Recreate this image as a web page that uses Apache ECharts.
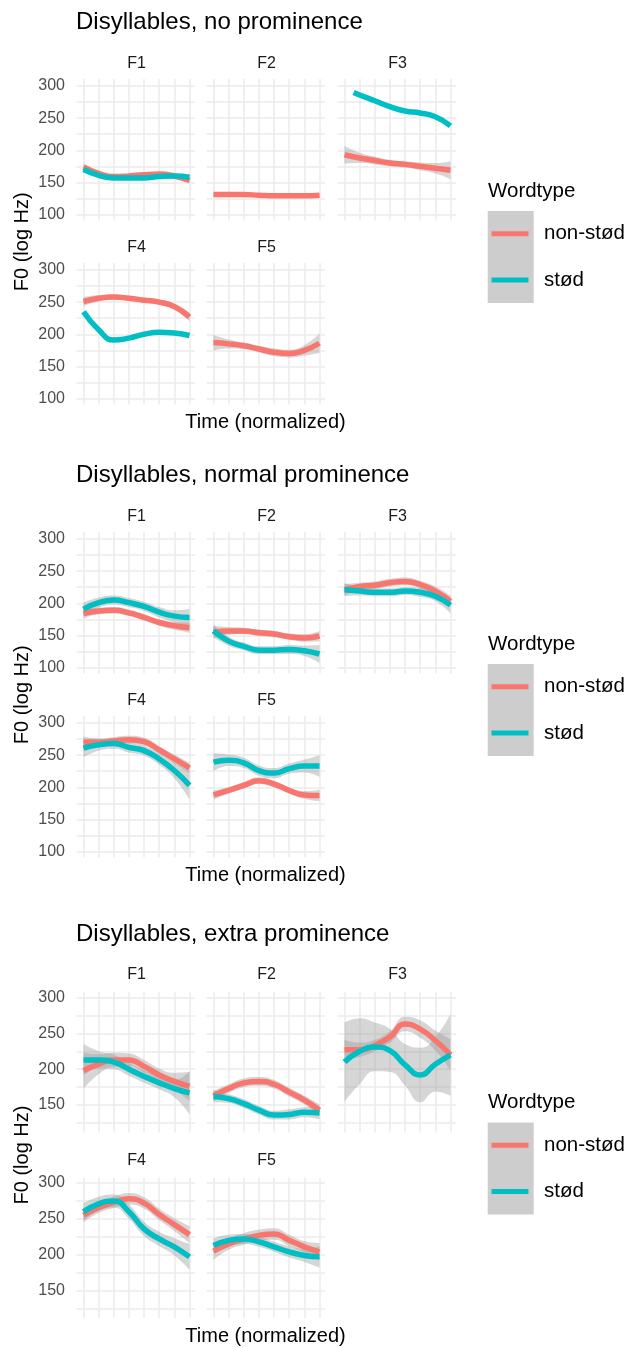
<!DOCTYPE html>
<html>
<head>
<meta charset="utf-8">
<title>Disyllables F0 contours</title>
<script src="https://cdn.jsdelivr.net/npm/echarts@6/dist/echarts.min.js"></script>
<style>
  html, body { margin: 0; padding: 0; background: #fff; }
  #chart { width: 631px; height: 1348px; }
</style>
</head>
<body>
<div id="chart"></div>
<script>
// ---- data ----
const times = [0, 1, 2, 3, 4, 5, 6, 7]
const facets = ['F1', 'F2', 'F3', 'F4', 'F5']
const wordtypes = ['non-stød', 'stød']
const panelTitles = ['Disyllables, no prominence', 'Disyllables, normal prominence', 'Disyllables, extra prominence']
const yRanges = [[100, 300], [100, 300], [125, 300]]

// no prominence
const noNonStodFit = [
  [174, 164, 159, 160, 162, 163, 160, 153],
  [131, 131, 131, 130, 129, 129, 129, 130],
  [193, 188, 184, 180, 178, 175, 172, 169],
  [251, 256, 258, 256, 253, 250, 243, 227],
  [187, 185, 182, 177, 172, 170, 175, 186]
]
const noNonStodSe = [
  [5, 3, 2, 2, 2, 2, 3, 5],
  [3, 2, 2, 2, 2, 2, 2, 3],
  [14, 8, 6, 5, 5, 6, 8, 14],
  [7, 5, 4, 4, 4, 4, 5, 7],
  [12, 7, 5, 5, 6, 6, 8, 15]
]
const noStodFit = [
  [170, 161, 157, 157, 157, 159, 160, 158],
  null,
  [290, 286, 277, 268, 261, 258, 252, 238],
  [235, 207, 191, 194, 200, 203, 202, 198],
  null
]
const noStodF3Times = [0.6, 1, 2, 3, 4, 5, 6, 7]

// normal prominence
const normNonStodFit = [
  [184, 188, 189, 185, 178, 170, 165, 162],
  [155, 157, 157, 154, 152, 148, 146, 149],
  [221, 226, 228, 232, 234, 229, 219, 203],
  [270, 270, 272, 274, 271, 258, 244, 230],
  [188, 195, 203, 210, 205, 195, 188, 187]
]
const normNonStodSe = [
  [8, 5, 5, 5, 5, 5, 6, 8],
  [10, 6, 5, 5, 5, 5, 6, 8],
  [9, 6, 6, 6, 6, 6, 7, 9],
  [9, 6, 6, 6, 6, 6, 7, 8],
  [7, 5, 5, 5, 5, 5, 6, 9]
]
const normStodFit = [
  [191, 201, 205, 201, 195, 186, 180, 178],
  [157, 141, 133, 127, 127, 128, 126, 121],
  [221, 219, 217, 217, 219, 217, 211, 197],
  [261, 266, 268, 262, 257, 244, 226, 203],
  [239, 242, 238, 226, 222, 229, 233, 233]
]
const normStodSe = [
  [10, 8, 7, 7, 7, 8, 9, 13],
  [10, 7, 6, 6, 6, 7, 8, 14],
  [10, 7, 6, 6, 6, 7, 8, 13],
  [14, 9, 8, 8, 8, 9, 12, 22],
  [14, 9, 8, 8, 8, 8, 10, 17]
]

// extra prominence
const extraNonStodFit = [
  [198, 207, 213, 213, 204, 192, 183, 176],
  [163, 173, 181, 183, 179, 168, 157, 143],
  [227, 227, 233, 245, 263, 256, 240, 220],
  [255, 266, 273, 278, 272, 256, 242, 228],
  [205, 215, 222, 227, 229, 220, 211, 204]
]
const extraNonStodSe = [
  [25, 14, 10, 9, 9, 9, 12, 20],
  [7, 6, 6, 6, 6, 6, 6, 8],
  [14, 10, 8, 8, 10, 12, 14, 22],
  [10, 8, 8, 8, 8, 8, 9, 12],
  [12, 8, 8, 8, 8, 8, 8, 12]
]
const extraStodFit = [
  [213, 213, 210, 200, 190, 181, 173, 167],
  [162, 159, 152, 143, 136, 137, 140, 139],
  [210, 225, 231, 226, 206, 192, 207, 220],
  [260, 271, 275, 260, 236, 222, 211, 197],
  [213, 220, 222, 218, 211, 204, 199, 197]
]
const extraStodSe = [
  [22, 12, 10, 9, 9, 9, 12, 30],
  [8, 6, 6, 6, 6, 7, 7, 9],
  [55, 46, 34, 30, 29, 38, 38, 57],
  [12, 10, 9, 10, 10, 10, 12, 18],
  [10, 8, 7, 7, 7, 8, 9, 15]
]

const blocksData = [
  { fit: [noNonStodFit, noStodFit], se: [noNonStodSe, null] },
  { fit: [normNonStodFit, normStodFit], se: [normNonStodSe, normStodSe] },
  { fit: [extraNonStodFit, extraStodFit], se: [extraNonStodSe, extraStodSe] }
]

// ---- layout ----
const FONT = 'Liberation Sans, Arial, sans-serif'
const GRID = '#ebebeb'
const colors = ['#F8766D', '#00BFC4']
const colLeft = [83.5, 213.5, 344.5]
const panelW = 106
const layout = [
  { rows: [86, 270], h: 128.5, ext: [7, 6] },
  { rows: [539, 723], h: 128.5, ext: [7, 6] },
  { rows: [997.5, 1183], h: 125.5, ext: [5.5, 9.5] }
]
const facetPos = [[0, 0], [0, 1], [0, 2], [1, 0], [1, 1]]

function gridLine () {
  return { color: GRID, width: 1.5 }
}

function textEl (text, x, y, size, color, align, rotation) {
  return {
    type: 'text',
    x, y,
    rotation: rotation || 0,
    silent: true,
    style: {
      text, x: 0, y: 0,
      fill: color,
      font: `${size}px ${FONT}`,
      textAlign: align || 'center', align: align || 'center',
      textVerticalAlign: 'middle', verticalAlign: 'middle'
    }
  }
}

const grid = []
const xAxis = []
const yAxis = []
const series = []
const graphic = []
const title = []
const legend = []

layout.forEach((L, b) => {
  const [ymin, ymax] = yRanges[b]
  facets.forEach((fname, f) => {
    const [r, c] = facetPos[f]
    const gi = grid.length
    const top = L.rows[r]
    grid.push({ left: colLeft[c], top, width: panelW, height: L.h })

    const xi = xAxis.length
    xAxis.push({
      type: 'value', gridIndex: gi, min: 0, max: 7, interval: 1,
      axisLine: { show: false, onZero: false },
      axisLabel: { show: false },
      axisTick: { show: true, length: L.ext[1], lineStyle: gridLine() },
      splitLine: { show: true, lineStyle: gridLine() }
    })
    xAxis.push({
      type: 'value', gridIndex: gi, position: 'top', min: 0, max: 7, interval: 1,
      axisLine: { show: false, onZero: false },
      axisLabel: { show: false },
      axisTick: { show: true, length: L.ext[0], lineStyle: gridLine() },
      splitLine: { show: false }
    })

    const yi = yAxis.length
    yAxis.push({
      type: 'value', gridIndex: gi, min: ymin, max: ymax, interval: 25,
      axisLine: { show: false, onZero: false },
      axisTick: { show: true, length: 7, lineStyle: gridLine() },
      axisLabel: {
        show: c === 0, margin: 18.5, fontSize: 16, color: '#4d4d4d', fontFamily: FONT,
        formatter: v => (v % 50 === 0 ? String(v) : '')
      },
      splitLine: { show: true, lineStyle: gridLine() }
    })
    yAxis.push({
      type: 'value', gridIndex: gi, position: 'right', min: ymin, max: ymax, interval: 25,
      axisLine: { show: false, onZero: false },
      axisTick: { show: true, length: 5.5, lineStyle: gridLine() },
      axisLabel: { show: false },
      splitLine: { show: false }
    })

    // strip label
    graphic.push(textEl(fname, colLeft[c] + panelW / 2, top - 22.5, 16, '#1a1a1a'))

    wordtypes.forEach((wt, g) => {
      const fit = blocksData[b].fit[g][f]
      if (!fit) return
      const t = (b === 0 && g === 1 && f === 2) ? noStodF3Times : times
      const se = blocksData[b].se[g] ? blocksData[b].se[g][f] : null
      const base = {
        type: 'line', xAxisIndex: xi, yAxisIndex: yi,
        smooth: true, symbol: 'none', silent: true
      }
      if (se) {
        // value first, time second, so the stack sums the F0 dimension
        const stack = `band-${b}-${f}-${g}`
        series.push(Object.assign({}, base, {
          name: wt + ' lower', stack,
          encode: { x: 1, y: 0 },
          data: t.map((x, i) => [fit[i] - se[i], x]),
          lineStyle: { opacity: 0 }
        }))
        series.push(Object.assign({}, base, {
          name: wt + ' CI', stack,
          encode: { x: 1, y: 0 },
          data: t.map((x, i) => [2 * se[i], x]),
          lineStyle: { opacity: 0 },
          areaStyle: { color: '#999999', opacity: 0.4 }
        }))
      }
      series.push(Object.assign({}, base, {
        name: wt,
        data: t.map((x, i) => [x, fit[i]]),
        lineStyle: { color: colors[g], width: 5.5 },
        itemStyle: { color: colors[g] }
      }))
    })
  })

  const blockTop = L.rows[0] - L.ext[0]
  const blockBottom = L.rows[1] + L.h + L.ext[1]

  title.push({
    text: panelTitles[b], left: 76, top: L.rows[0] - 63.5 - 12, padding: 0,
    textStyle: { fontSize: 24, fontWeight: 'normal', color: '#000', fontFamily: FONT }
  })
  graphic.push(textEl('F0 (log Hz)', 22, (blockTop + blockBottom) / 2, 20, '#000', 'center', Math.PI / 2))
  graphic.push(textEl('Time (normalized)', 265.5, blockBottom + 18, 20, '#000'))

  // legend
  graphic.push(textEl('Wordtype', 488, L.rows[0] + 105, 20.5, '#000', 'left'))
  graphic.push({
    type: 'rect', z: 1, silent: true,
    shape: { x: 487.7, y: L.rows[0] + 125, width: 46, height: 92 },
    style: { fill: '#cdcdcd' }
  })
  legend.push({
    data: wordtypes, orient: 'vertical', left: 491.5, top: L.rows[0] + 136.7,
    itemWidth: 37, itemHeight: 5, itemGap: 24.3, icon: 'rect', padding: 0,
    selectedMode: false,
    textStyle: { fontSize: 20.5, lineHeight: 22, color: '#000', fontFamily: FONT, padding: [0, 0, 0, 10.5] }
  })
})

const chart = echarts.init(document.getElementById('chart'), null, { renderer: 'canvas' })
chart.setOption({
  animation: false,
  backgroundColor: '#fff',
  title,
  legend,
  grid,
  xAxis,
  yAxis,
  series,
  graphic: { elements: graphic }
})
</script>
</body>
</html>
